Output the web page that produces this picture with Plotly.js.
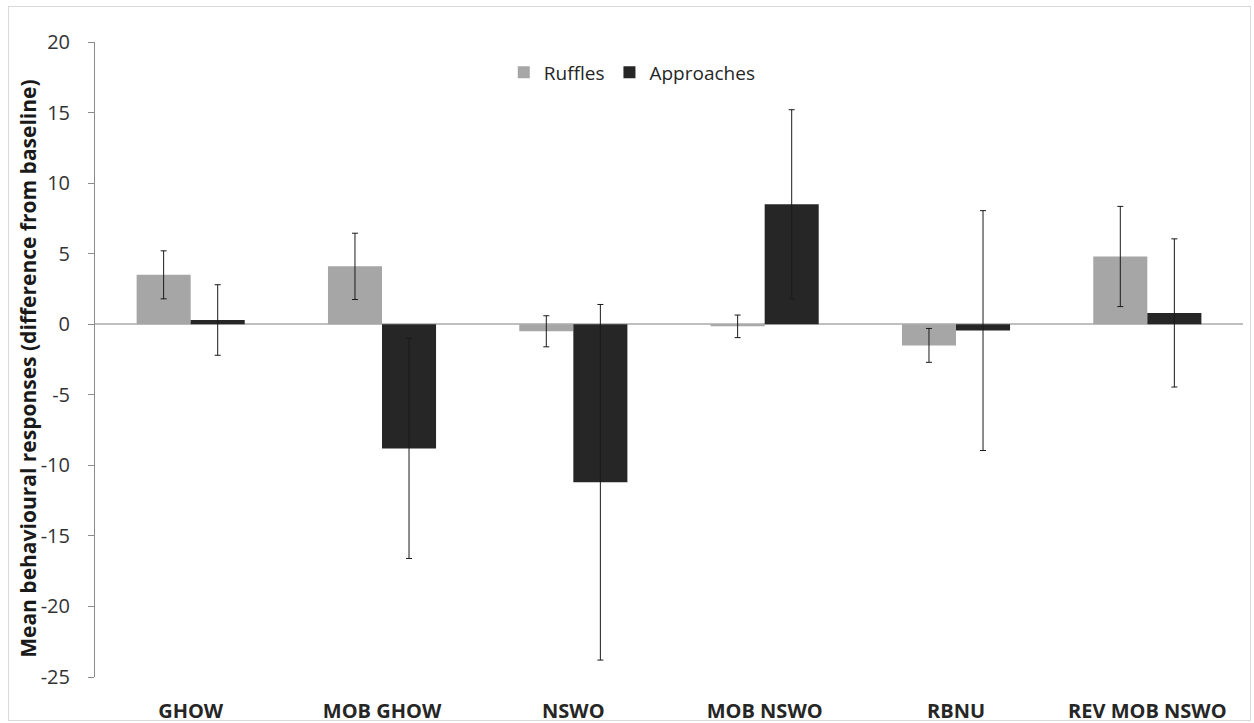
<!DOCTYPE html>
<html>
<head>
<meta charset="utf-8">
<script src="https://cdn.plot.ly/plotly-3.0.1.min.js"></script>
<style>
  html, body { margin: 0; padding: 0; background: #fff; }
  #wrap { position: relative; width: 1254px; height: 723px; }
  #chart { position: absolute; left: 0; top: 0; width: 1254px; height: 723px; }
  #frame { position: absolute; left: 8px; top: 6px; width: 1241px; height: 713px; border: 1px solid #d9d9d9; pointer-events: none; }
</style>
</head>
<body>
<div id="wrap">
  <div id="chart"></div>
  <div id="frame"></div>
</div>
<script>
const categories = ['GHOW', 'MOB GHOW', 'NSWO', 'MOB NSWO', 'RBNU', 'REV MOB NSWO'];
const ruffles = [3.5, 4.1, -0.5, -0.15, -1.5, 4.8];
const rufflesErr = [1.7, 2.35, 1.1, 0.8, 1.2, 3.55];
const approaches = [0.3, -8.8, -11.2, 8.5, -0.45, 0.8];
const approachesErr = [2.5, 7.8, 12.6, 6.7, 8.5, 5.25];
const yTicks = [20, 15, 10, 5, 0, -5, -10, -15, -20, -25];
const yTickLabels = ['20', '15', '10', '5', '0', '-5', '-10', '-15', '-20', '-25'];
const yTitle = 'Mean behavioural responses (difference from baseline)';

const fontFamily = '"Open Sans", "Liberation Sans", sans-serif';

const traces = [
  {
    type: 'bar', name: 'Ruffles', x: categories, y: ruffles,
    marker: { color: '#a6a6a6', line: { width: 0 } },
    error_y: { type: 'data', array: rufflesErr, visible: true, color: '#1a1a1a', thickness: 1, width: 3 }
  },
  {
    type: 'bar', name: 'Approaches', x: categories, y: approaches,
    marker: { color: '#262626', line: { width: 0 } },
    error_y: { type: 'data', array: approachesErr, visible: true, color: '#1a1a1a', thickness: 1, width: 3 }
  }
];

const layout = {
  width: 1254, height: 723,
  margin: { l: 95, r: 11, t: 42, b: 46 },
  paper_bgcolor: '#ffffff', plot_bgcolor: '#ffffff',
  font: { family: fontFamily, color: '#333333' },
  barmode: 'group', bargap: 0.435, bargroupgap: 0,
  showlegend: true,
  legend: {
    orientation: 'h', x: 0.468, xanchor: 'center', y: 0.952, yanchor: 'middle',
    font: { size: 19, color: '#262626', family: fontFamily },
    bgcolor: 'rgba(0,0,0,0)', traceorder: 'normal'
  },
  xaxis: {
    type: 'category', showgrid: false, showline: false, zeroline: false,
    ticks: 'outside', ticklen: 16, tickcolor: 'rgba(0,0,0,0)',
    tickfont: { size: 20, family: fontFamily, color: '#262626', weight: 'bold' },
    fixedrange: true
  },
  yaxis: {
    range: [-25, 20], tickvals: yTicks, ticktext: yTickLabels, showgrid: false,
    showline: true, linecolor: '#8c8c8c', linewidth: 1,
    zeroline: true, zerolinecolor: '#bfbfbf', zerolinewidth: 1.5,
    ticks: 'outside', ticklen: 6, tickcolor: '#8c8c8c',
    ticklabelstandoff: 14,
    tickfont: { size: 20, family: fontFamily, color: '#333333' },
    automargin: false,
    fixedrange: true
  },
  annotations: [{
    text: yTitle, xref: 'paper', yref: 'paper',
    x: -0.058, y: 0.486, xanchor: 'center', yanchor: 'middle',
    textangle: -90, showarrow: false,
    font: { size: 21, family: fontFamily, color: '#1a1a1a', weight: 'bold' }
  }]
};

Plotly.newPlot('chart', traces, layout, { displayModeBar: false, staticPlot: true });
</script>
</body>
</html>
